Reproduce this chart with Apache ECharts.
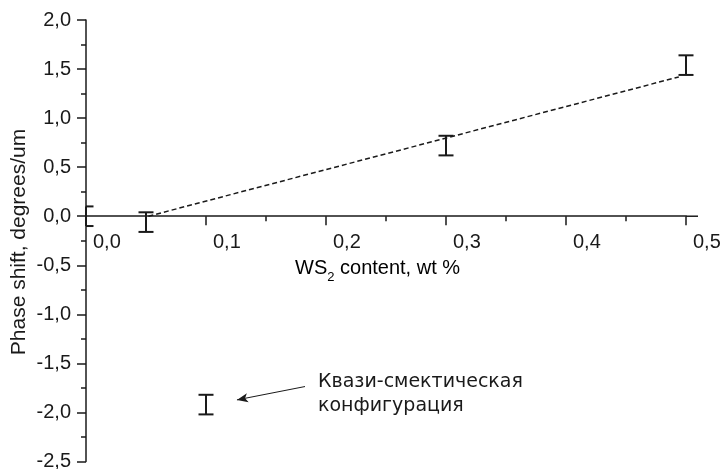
<!DOCTYPE html>
<html><head><meta charset="utf-8">
<script src="https://cdn.jsdelivr.net/npm/echarts@6/dist/echarts.min.js"></script>
<style>html,body{margin:0;padding:0;background:#fff}#c{width:721px;height:469px}</style>
</head><body><div id="c"></div>
<script>
// Data
const errX = [0, 0.05, 0.3, 0.5];
const errY = [0, -0.06, 0.72, 1.54];
const errE = [0.1, 0.1, 0.1, 0.1];
const quasiX = [0.1];
const quasiY = [-1.92];
const quasiE = [0.1];
const fitX = [0.052, 0.494];
const fitY = [0.0, 1.42];
const arrowFrom = [0.1825, -1.736];
const arrowTo = [0.1258, -1.872];
const annotationText = 'Квази-смектическая\nконфигурация';
const xName = ['WS', '2', ' content, wt %'];
const yName = 'Phase shift, degrees/um';
const xTickValues = [0, 0.1, 0.2, 0.3, 0.4, 0.5];
const xMin = 0, xMax = 0.5, xInterval = 0.1;
const yMin = -2.5, yMax = 2.0, yInterval = 0.5;

const ink = '#1a1a1a';
const fmt = v => v.toFixed(1).replace('.', ',');
const labelFamily = 'Liberation Sans, Arial, sans-serif';

function errRender(params, api) {
  const x = api.value(0), y = api.value(1), e = api.value(2);
  const t = api.coord([x, y + e]), b = api.coord([x, y - e]);
  const hw = 7.5;
  const left = params.coordSys.x;
  const st = {stroke: ink, lineWidth: 2};
  const l = Math.max(left, t[0] - hw);
  return {type: 'group', children: [
    {type: 'line', shape: {x1: t[0], y1: t[1], x2: b[0], y2: b[1]}, style: st},
    {type: 'line', shape: {x1: l, y1: t[1], x2: t[0] + hw, y2: t[1]}, style: st},
    {type: 'line', shape: {x1: l, y1: b[1], x2: b[0] + hw, y2: b[1]}, style: st}
  ]};
}

const chart = echarts.init(document.getElementById('c'), null, {renderer: 'canvas'});
const axisFont = {fontFamily: labelFamily, fontSize: 20, color: ink};
chart.setOption({
  animation: false,
  backgroundColor: '#fff',
  grid: {left: 86, right: 35, top: 20, bottom: 7.5, containLabel: false, outerBoundsMode: 'none'},
  xAxis: {
    type: 'value', min: xMin, max: xMax, interval: xInterval, position: 'bottom',
    axisLine: {show: true, onZero: true, lineStyle: {color: ink, width: 1.5}},
    axisTick: {show: true, length: 9, lineStyle: {color: ink, width: 1.5}},
    minorTick: {show: true, splitNumber: 2, length: 5, lineStyle: {color: ink, width: 1.5}},
    splitLine: {show: false},
    axisLabel: {show: false}
  },
  yAxis: {
    type: 'value', min: yMin, max: yMax, interval: yInterval,
    axisLine: {show: true, onZero: false, lineStyle: {color: ink, width: 1.5}},
    axisTick: {show: true, length: 9, lineStyle: {color: ink, width: 1.5}},
    minorTick: {show: true, splitNumber: 2, length: 5, lineStyle: {color: ink, width: 1.5}},
    splitLine: {show: false},
    axisLabel: Object.assign({formatter: fmt, margin: 15}, axisFont)
  },
  graphic: [
    {type: 'text', x: 19, y: 242, rotation: Math.PI / 2, style: {
      text: yName, fontFamily: labelFamily, fontSize: 21, fill: ink,
      align: 'center', verticalAlign: 'middle'
    }},
    {type: 'text', left: 295, top: 258, style: {
      text: '{a|' + xName[0] + '}{b|' + xName[1] + '}{a|' + xName[2] + '}',
      rich: {
        a: {fontFamily: labelFamily, fontSize: 20, color: ink, lineHeight: 24, verticalAlign: 'bottom'},
        b: {fontFamily: labelFamily, fontSize: 13, color: ink, lineHeight: 24, verticalAlign: 'bottom', padding: [0, 0, -6, 0]}
      }
    }},
    {type: 'text', left: 318, top: 370, style: {
      text: annotationText, fontFamily: 'DejaVu Sans, Verdana, sans-serif', fontSize: 19, lineHeight: 24, fill: ink
    }}
  ],
  series: [
    {
      type: 'line', data: fitX.map((x, i) => [x, fitY[i]]), showSymbol: false, symbol: 'none',
      lineStyle: {color: ink, width: 1.5, type: [5, 3]}, z: 3
    },
    {
      type: 'custom', renderItem: errRender, clip: false, z: 4,
      data: errX.map((x, i) => [x, errY[i], errE[i]])
    },
    {
      type: 'custom', renderItem: errRender, clip: false, z: 4,
      data: quasiX.map((x, i) => [x, quasiY[i], quasiE[i]]),
      markLine: {
        silent: true, symbol: ['none', 'arrow'], symbolSize: [7, 11],
        lineStyle: {color: ink, width: 1, type: 'solid'}, label: {show: false},
        data: [[{coord: arrowFrom}, {coord: arrowTo}]]
      }
    },
    {
      // x tick labels placed just right of each tick, below the zero line
      type: 'custom', clip: false, silent: true, z: 5,
      data: xTickValues.map(v => [v, 0]),
      renderItem: function (params, api) {
        const v = api.value(0);
        const p = api.coord([v, api.value(1)]);
        return {type: 'text', style: {
          text: fmt(v), x: p[0] + 7, y: p[1] + 26,
          align: 'left', verticalAlign: 'middle', textAlign: 'left', textVerticalAlign: 'middle',
          fontFamily: labelFamily, fontSize: 20, fill: ink
        }};
      }
    },
    {
      // axis line extension past the last tick
      type: 'custom', clip: false, silent: true, z: 2,
      data: [[xMax, 0]],
      renderItem: function (params, api) {
        const p = api.coord([api.value(0), api.value(1)]);
        return {type: 'line', shape: {x1: p[0], y1: p[1], x2: p[0] + 12, y2: p[1]}, style: {stroke: ink, lineWidth: 1.5}};
      }
    }
  ]
});
</script></body></html>
